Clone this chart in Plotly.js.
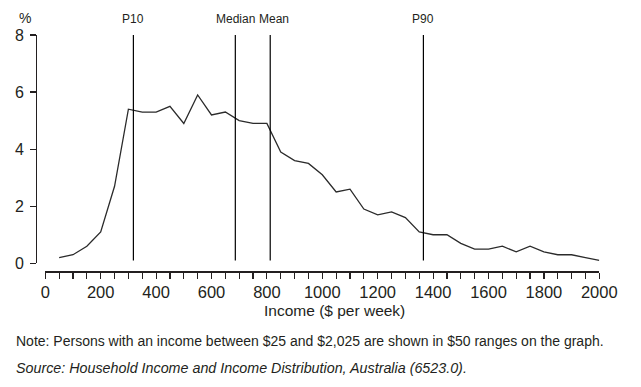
<!DOCTYPE html>
<html>
<head>
<meta charset="utf-8">
<script src="https://cdn.plot.ly/plotly-3.0.1.min.js"></script>
<style>
html,body{margin:0;padding:0;background:#fff;}
#chart{width:641px;height:387px;}
</style>
</head>
<body>
<div id="chart"></div>
<script>
// Income ranges ($50 bands, midpoints) and share of persons (%)
const incomeMid = [50,100,150,200,250,300,350,400,450,500,550,600,650,700,750,800,850,900,950,1000,
  1050,1100,1150,1200,1250,1300,1350,1400,1450,1500,1550,1600,1650,1700,1750,1800,1850,1900,1950,2000];
const percentPersons = [0.2,0.3,0.6,1.1,2.7,5.4,5.3,5.3,5.5,4.9,5.9,5.2,5.3,5.0,4.9,4.9,3.9,3.6,3.5,3.1,
  2.5,2.6,1.9,1.7,1.8,1.6,1.1,1.0,1.0,0.7,0.5,0.5,0.6,0.4,0.6,0.4,0.3,0.3,0.2,0.1];

// Reference markers
const markerNames = ['P10','Median','Mean','P90'];
const markerValues = [318, 686, 812, 1365];
const markerLabelShift = [0, 0, 4, 0];

const xTitle = 'Income ($ per week)';
const yUnit = '%';
const noteText = 'Note: Persons with an income between $25 and $2,025 are shown in $50 ranges on the graph.';
const sourceText = '<i>Source: Household Income and Income Distribution, Australia (6523.0).</i>';

const W = 641, H = 387;
const px = v => v / W;
const py = v => 1 - v / H;
const ink = '#231f20';
const FONT = 'Liberation Sans, Arial, sans-serif';

const shapes = markerValues.map(v => ({
  type: 'line', xref: 'x', yref: 'y', x0: v, x1: v, y0: 0.1, y1: 8,
  line: {color: '#000', width: 1.2}
}));

const annotations = markerNames.map((n, i) => ({
  text: n, x: markerValues[i], xref: 'x', y: py(19), yref: 'paper',
  xanchor: 'center', yanchor: 'middle', showarrow: false, xshift: markerLabelShift[i],
  font: {family: FONT, size: 12, color: ink}
}));
annotations.push(
  {text: yUnit, x: px(25), y: py(18), xref: 'paper', yref: 'paper', xanchor: 'center', yanchor: 'middle',
   showarrow: false, font: {family: FONT, size: 14, color: ink}},
  {text: xTitle, x: px(334), y: py(310), xref: 'paper', yref: 'paper', xanchor: 'center', yanchor: 'middle',
   showarrow: false, font: {family: FONT, size: 15.5, color: ink}},
  {text: noteText, x: px(14), y: py(341), xref: 'paper', yref: 'paper', xanchor: 'left', yanchor: 'middle',
   showarrow: false, font: {family: FONT, size: 14, color: ink}},
  {text: sourceText, x: px(14), y: py(368), xref: 'paper', yref: 'paper', xanchor: 'left', yanchor: 'middle',
   showarrow: false, font: {family: FONT, size: 14.3, color: ink}}
);

const trace = {
  x: incomeMid, y: percentPersons, type: 'scatter', mode: 'lines',
  line: {color: '#2b2b2b', width: 1.3}, hoverinfo: 'x+y'
};

const layout = {
  width: W, height: H,
  margin: {l: 0, r: 0, t: 0, b: 0, pad: 0},
  paper_bgcolor: '#fff', plot_bgcolor: 'rgba(0,0,0,0)',
  showlegend: false,
  font: {family: FONT, color: ink},
  xaxis: {
    domain: [px(45.3), px(599.3)], range: [0, 2000], anchor: 'free', position: py(271.3),
    showline: true, linecolor: ink, linewidth: 1.2, showgrid: false, zeroline: false,
    ticks: 'outside', ticklen: 6, tickwidth: 1.2, tickcolor: ink, dtick: 200, tick0: 0,
    minor: {dtick: 50, ticks: 'outside', ticklen: 6, tickwidth: 1.2, tickcolor: ink, showgrid: false},
    tickfont: {family: FONT, size: 16.5, color: ink}, automargin: false
  },
  yaxis: {
    domain: [py(263.3), py(35)], range: [0, 8], anchor: 'free', position: px(36),
    showline: true, linecolor: ink, linewidth: 1.2, showgrid: false, zeroline: false,
    ticks: 'outside', ticklen: 6, tickwidth: 1.2, tickcolor: ink, dtick: 2, tick0: 0,
    ticklabelstandoff: 3,
    tickfont: {family: FONT, size: 16, color: ink}, automargin: false
  },
  shapes: shapes,
  annotations: annotations
};

Plotly.newPlot('chart', [trace], layout, {displayModeBar: false, staticPlot: true});
</script>
</body>
</html>
